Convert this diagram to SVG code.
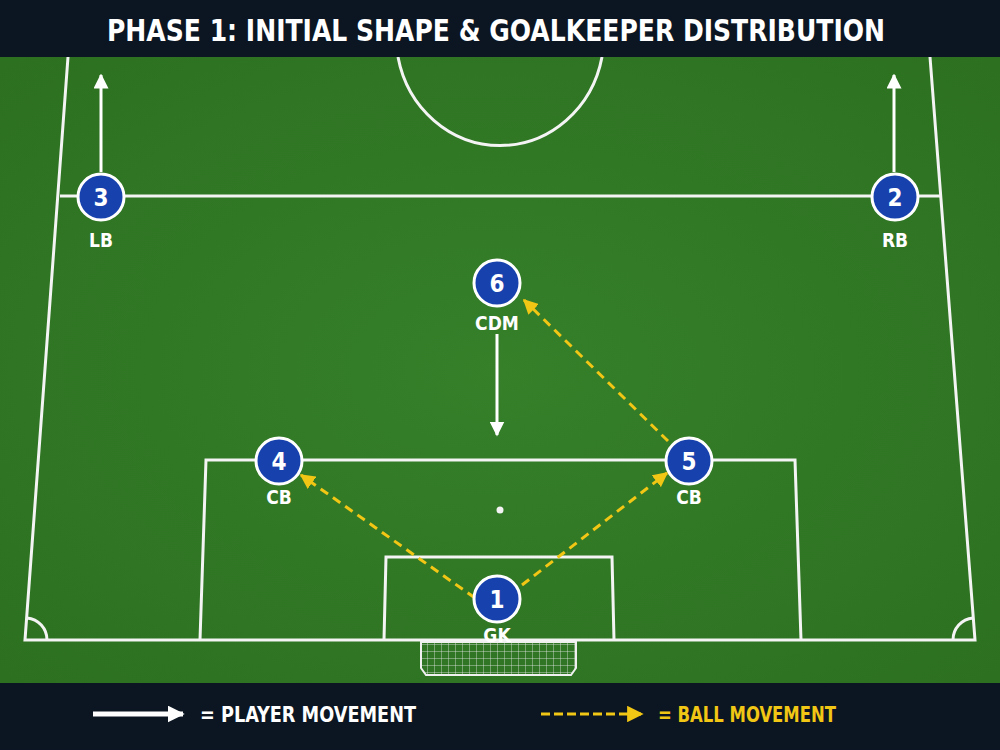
<svg xmlns="http://www.w3.org/2000/svg" width="1000" height="750" viewBox="0 0 1000 750">
<defs>
<radialGradient id="grass" cx="50%" cy="50%" r="70%">
<stop offset="0" stop-color="#36802a"/>
<stop offset="1" stop-color="#2c7020"/>
</radialGradient>
<marker id="wh" viewBox="0 0 10 10" refX="9" refY="5" markerWidth="5" markerHeight="5" orient="auto" markerUnits="strokeWidth"><path d="M0,0 L10,5 L0,10 z" fill="#fff"/></marker>
<marker id="yh" viewBox="0 0 10 10" refX="9" refY="5" markerWidth="5" markerHeight="5" orient="auto" markerUnits="strokeWidth"><path d="M0,0 L10,5 L0,10 z" fill="#f2c614"/></marker>
<marker id="whl" viewBox="0 0 10 10" refX="9" refY="5" markerWidth="3.4" markerHeight="3.4" orient="auto" markerUnits="strokeWidth"><path d="M0,0 L10,5 L0,10 z" fill="#fff"/></marker>
<marker id="yhl" viewBox="0 0 10 10" refX="9" refY="5" markerWidth="5.5" markerHeight="5.5" orient="auto" markerUnits="strokeWidth"><path d="M0,0 L10,5 L0,10 z" fill="#f2c614"/></marker>
<pattern id="net" width="7" height="7" patternUnits="userSpaceOnUse"><path d="M0,0 H7 M0,0 V7" stroke="#e8e8e8" stroke-width="0.8" fill="none"/></pattern>
</defs>
<style>
.line{fill:none;stroke:#f4f4f4;stroke-width:3}
.pc{fill:#1742ae;stroke:#fff;stroke-width:3}
.num{font-family:"DejaVu Sans Condensed","DejaVu Sans",sans-serif;font-weight:bold;font-size:24px;fill:#fff;text-anchor:middle}
.lbl{font-family:"DejaVu Sans Condensed","DejaVu Sans",sans-serif;font-weight:bold;font-size:19px;fill:#fff;text-anchor:middle}
.pm{stroke:#fff;stroke-width:3;fill:none;marker-end:url(#wh)}
.bm{stroke:#f2c614;stroke-width:3;fill:none;stroke-dasharray:9 6;marker-end:url(#yh)}
.leg{font-family:"DejaVu Sans Condensed","DejaVu Sans",sans-serif;font-weight:bold;font-size:21px}
</style>
<rect width="1000" height="750" fill="#0b1622"/>
<rect x="0" y="57" width="1000" height="626" fill="url(#grass)"/>
<g id="pitch">
<path class="line" d="M68,57 L25,640 L975,640 L930,57"/>
<line class="line" x1="60" y1="196" x2="940" y2="196"/>
<path class="line" d="M398,57 A104,110 0 0 0 602,57"/>
<path class="line" d="M200,640 L206,460 L795,460 L801,640"/>
<path class="line" d="M384,640 L386,557 L612,557 L614,640"/>
<circle cx="500" cy="510" r="3.5" fill="#f4f4f4"/>
<path class="line" d="M27,618 A22,22 0 0 1 47,640"/>
<path class="line" d="M973,618 A22,22 0 0 0 953,640"/>
<path d="M421,642 L576,642 L576,668 L571,675 L426,675 L421,668 Z" fill="url(#net)" stroke="#f0f0f0" stroke-width="2"/>
</g>
<rect x="0" y="0" width="1000" height="57" fill="#0b1622"/>
<text x="496" y="41" text-anchor="middle" font-family="'DejaVu Sans Condensed','DejaVu Sans',sans-serif" font-weight="bold" font-size="31" fill="#fff" textLength="778" lengthAdjust="spacingAndGlyphs">PHASE 1: INITIAL SHAPE &amp; GOALKEEPER DISTRIBUTION</text>
<g id="connectors">
<line class="pm" x1="101" y1="172" x2="101" y2="75"/>
<line class="pm" x1="894" y1="172" x2="894" y2="75"/>
<line class="pm" x1="497" y1="334" x2="497" y2="435"/>
<line class="bm" x1="475" y1="598" x2="301" y2="475"/>
<line class="bm" x1="522" y1="585" x2="667" y2="473"/>
<line class="bm" x1="668" y1="441" x2="524" y2="300"/>
</g>
<g id="p3"><circle class="pc" cx="101" cy="197" r="23"/><text class="num" x="101" y="206">3</text><text class="lbl" x="101" y="247">LB</text></g>
<g id="p2"><circle class="pc" cx="895" cy="197" r="23"/><text class="num" x="895" y="206">2</text><text class="lbl" x="895" y="247">RB</text></g>
<g id="p6"><circle class="pc" cx="497" cy="283" r="23"/><text class="num" x="497" y="292">6</text><text class="lbl" x="497" y="330">CDM</text></g>
<g id="p4"><circle class="pc" cx="279" cy="461" r="23"/><text class="num" x="279" y="470">4</text><text class="lbl" x="279" y="504">CB</text></g>
<g id="p5"><circle class="pc" cx="689" cy="461" r="23"/><text class="num" x="689" y="470">5</text><text class="lbl" x="689" y="504">CB</text></g>
<g id="p1"><circle class="pc" cx="497" cy="599" r="23"/><text class="num" x="497" y="608">1</text><text class="lbl" x="497" y="642">GK</text></g>
<g id="legend">
<line stroke="#fff" stroke-width="5" marker-end="url(#whl)" x1="93" y1="714" x2="183" y2="714"/>
<text class="leg" x="200" y="722" fill="#fff" textLength="216" lengthAdjust="spacingAndGlyphs">= PLAYER MOVEMENT</text>
<line stroke="#f2c614" stroke-width="3" stroke-dasharray="9 4" marker-end="url(#yhl)" x1="541" y1="714" x2="642" y2="714"/>
<text class="leg" x="658" y="722" fill="#f2c614" textLength="178" lengthAdjust="spacingAndGlyphs">= BALL MOVEMENT</text>
</g>
</svg>
